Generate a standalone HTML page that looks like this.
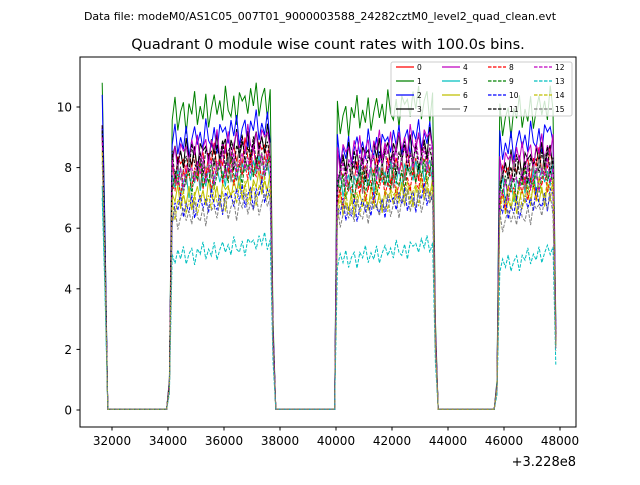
<!DOCTYPE html>
<html><head><meta charset="utf-8"><style>
body{margin:0;background:#fff;}
svg{font-family:"DejaVu Sans","Liberation Sans",sans-serif;}
</style></head><body>
<svg id="chart" width="640" height="480">
<text x="320" y="20" font-size="11" text-anchor="middle">Data file: modeM0/AS1C05_007T01_9000003588_24282cztM0_level2_quad_clean.evt</text>
<text x="328" y="49" font-size="14.5" text-anchor="middle">Quadrant 0 module wise count rates with 100.0s bins.</text>
<g id="plot"></g>
<rect x="80" y="57" width="496" height="370" fill="none" stroke="#000" stroke-width="1"/>
<g id="axes"></g>
<text x="576" y="466" font-size="13" text-anchor="end">+3.228e8</text>
<g id="legend"></g>
</svg>
<script>
const xTicks=[32000,34000,36000,38000,40000,42000,44000,46000,48000];
const yTicks=[0,2,4,6,8,10];
const seriesNames=["0","1","2","3","4","5","6","7","8","9","10","11","12","13","14","15"];
const segStarts=[31650,34050,40000,45750];
const segEnds=[31750,37750,43550,47850];
const levelsSeg0=[9.3,10.8,10.4,9.2,9.4,7.4,8.6,9.0,9.0,9.2,9.3,9.4,9.0,7.0,8.5,8.2];
const levelsSeg1=[8.3,10.0,9.1,8.6,8.7,7.7,7.2,8.0,7.8,7.8,6.9,8.4,8.0,5.3,7.0,6.6];
const levelsSeg2=[7.9,9.9,8.8,8.5,8.7,7.7,7.0,7.8,7.4,7.6,6.8,8.2,8.2,5.2,7.0,6.7];
const levelsSeg3=[8.0,9.8,8.9,8.2,8.4,7.5,7.0,7.8,7.3,7.5,6.8,8.0,7.6,5.0,7.1,6.5];
const noise=[0.3,-0.5,0.6,-0.2,0.8,-0.7,0.1,0.5,-0.9,0.4,-0.1,0.9,-0.6,0.2,-0.4,0.7,-0.8,0.0,0.6,-0.3,0.3,-0.6,0.9,-0.2,-0.5,0.4,-0.9,0.5,0.1];
const colors=["#ff0000","#008000","#0000ff","#000000","#bf00bf","#00bfbf","#bfbf00","#808080"];

const X=v=>112+(v-32000)*0.028;
const Y=v=>410-v*30.3;
const NS="http://www.w3.org/2000/svg";
function mk(tag,attrs,parent){const e=document.createElementNS(NS,tag);for(const k in attrs)e.setAttribute(k,attrs[k]);parent.appendChild(e);return e;}

const times=[];for(let t=31650;t<=47850;t+=100)times.push(t);
const levels=[levelsSeg0,levelsSeg1,levelsSeg2,levelsSeg3];
function val(s,i){
  const t=times[i];
  for(let g=0;g<4;g++){
    if(t>=segStarts[g]&&t<=segEnds[g]){
      const L=levels[g][s];
      if(g===0){return t===segStarts[0]?L:L*0.55;}
      if(t===segStarts[g])return L*0.1;
      if(t===segEnds[g])return L*0.3;
      const frac=(t-segStarts[g])/(segEnds[g]-segStarts[g]);
      const amp=0.6*L/8;
      return L-0.3+frac*0.6+noise[(i+s*7)%noise.length]*amp;
    }
  }
  return 0.02;
}
const plot=document.getElementById('plot');
for(let s=0;s<16;s++){
  let d="";
  for(let i=0;i<times.length;i++){d+=(i?"L":"M")+X(times[i]).toFixed(1)+","+Y(val(s,i)).toFixed(1);}
  const p=mk('path',{d:d,fill:"none",style:"stroke:"+colors[s%8]+";stroke-width:1"},plot);
  if(s>=8)p.setAttribute('stroke-dasharray','3.5,1.5');
  
  
}
const axes=document.getElementById('axes');
xTicks.forEach(v=>{
  const l=mk('line',{x1:X(v),x2:X(v),y1:427,y2:430.5,stroke:"#000"},axes);
  
  
  const t=mk('text',{x:X(v),y:445,"font-size":12,"text-anchor":"middle"},axes);
  t.textContent=v;
  
  
});
yTicks.forEach(v=>{
  const l=mk('line',{x1:76.5,x2:80,y1:Y(v),y2:Y(v),stroke:"#000"},axes);
  
  
  const t=mk('text',{x:72,y:Y(v)+4.5,"font-size":12,"text-anchor":"end"},axes);
  t.textContent=v;
  
  
});
const lg=document.getElementById('legend');
const box=mk('rect',{x:391,y:62,width:181,height:54,rx:2,fill:"#fff","fill-opacity":0.8,stroke:"#ccc"},lg);


const colX=[396,442,488,534],rowY=[67,81,95,109];
for(let s=0;s<16;s++){
  const c=Math.floor(s/4),r=s%4;
  const l=mk('line',{x1:colX[c],x2:colX[c]+18,y1:rowY[r],y2:rowY[r],style:"stroke:"+colors[s%8]+";stroke-width:1.3"},lg);
  if(s>=8)l.setAttribute('stroke-dasharray','3.5,1.5');
  
  
  const t=mk('text',{x:colX[c]+21,y:rowY[r]+2.8,"font-size":7.5},lg);
  t.textContent=seriesNames[s];
  
  
}
</script>
</body></html>
